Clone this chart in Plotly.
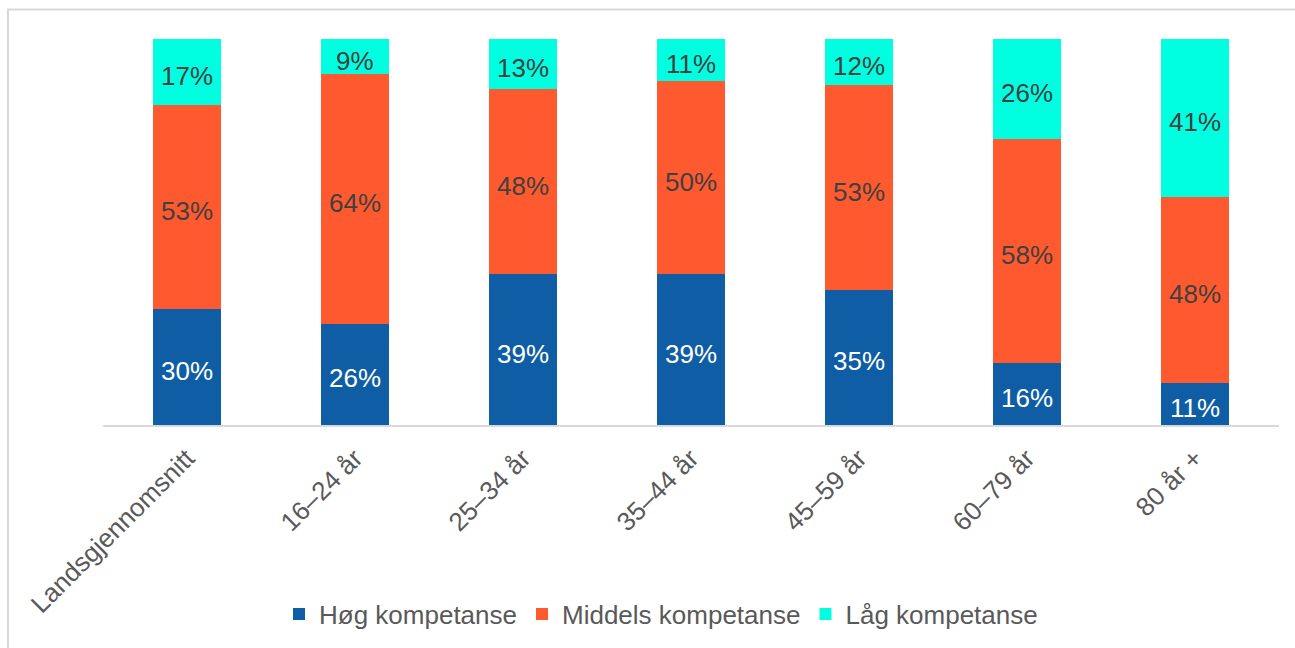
import plotly.graph_objects as go

# Competence level shares by age group (percent)
categories = ["Landsgjennomsnitt", "16–24 år", "25–34 år", "35–44 år", "45–59 år", "60–79 år", "80 år +"]
hog = [30, 26, 39, 39, 35, 16, 11]
middels = [53, 64, 48, 50, 53, 58, 48]
lag = [17, 9, 13, 11, 12, 26, 41]

series = [
    ("Høg kompetanse", hog, "#0E5DA5", "#FFFFFF"),
    ("Middels kompetanse", middels, "#FF5A2F", "#404040"),
    ("Låg kompetanse", lag, "#00FFE1", "#404040"),
]

# normalise each column to 100 so every bar reaches the top
totals = [sum(v) for v in zip(hog, middels, lag)]

fig = go.Figure()
base = [0.0] * len(categories)
annotations = []
for name, vals, color, tcol in series:
    shares = [v / t * 100 for v, t in zip(vals, totals)]
    fig.add_trace(go.Bar(
        x=categories, y=shares, name=name,
        marker=dict(color=color, line=dict(width=0)),
        hoverinfo="skip",
    ))
    for i, (c, s, v) in enumerate(zip(categories, shares, vals)):
        annotations.append(dict(
            x=c, y=base[i] + s / 2, xref="x", yref="y",
            text=f"{v}%", showarrow=False, yshift=-4,
            font=dict(family="Liberation Sans, Arial", size=26, color=tcol),
        ))
        base[i] += s

fig.update_layout(
    barmode="stack",
    bargap=0.595,
    width=1295, height=648,
    margin=dict(l=103, r=16, t=39, b=222),
    paper_bgcolor="white", plot_bgcolor="white",
    font=dict(family="Liberation Sans, Arial", size=25, color="#595959"),
    xaxis=dict(
        showline=True, linecolor="#D9D9D9", linewidth=1.5,
        tickangle=-45, ticks="", showgrid=False, ticklabelstandoff=6,
        tickfont=dict(size=26, color="#595959"),
    ),
    yaxis=dict(range=[0, 100], visible=False, showgrid=False),
    legend=dict(
        orientation="h", x=0.4745, xanchor="center", y=-0.486, yanchor="middle",
        traceorder="normal",
        font=dict(size=26, color="#595959"), itemclick=False,
    ),
    annotations=annotations,
    shapes=[dict(
        type="rect", xref="paper", yref="paper",
        x0=-0.0808, x1=1.03, y0=-0.7, y1=1.0762,
        line=dict(color="#D9D9D9", width=2), fillcolor="rgba(0,0,0,0)",
    )],
)

fig.write_html("out.html")
